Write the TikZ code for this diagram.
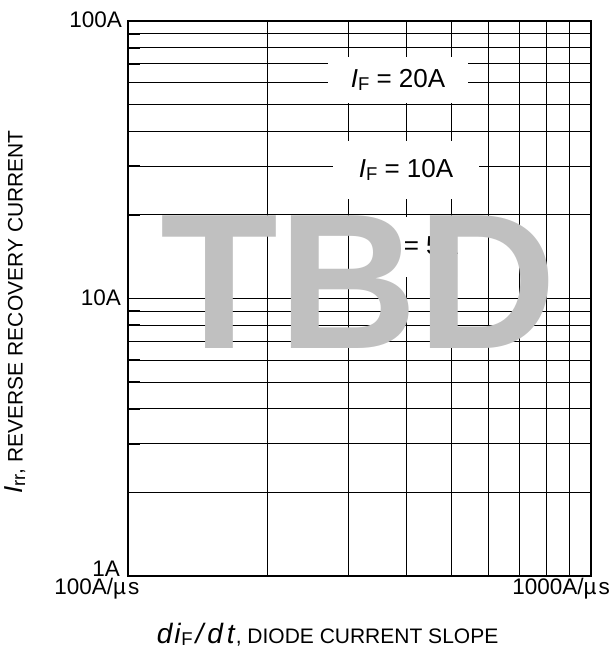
\documentclass[tikz,border=0pt]{standalone}
\usepackage{fontspec}
\setmainfont{Liberation Sans}
\usepackage{tikz}
\usetikzlibrary{positioning}
\definecolor{tbdgray}{RGB}{192,192,192}
\newcommand{\lowidx}[1]{\raisebox{-2.5pt}{\fontsize{18.5}{18.5}\selectfont #1}}

\begin{document}
\begin{tikzpicture}[x=1pt,y=-1pt]
        % Styles du graphique
        \tikzstyle{gridline} = [line width=1pt, black]
        \tikzstyle{plotframe} = [line width=1.2pt, black]
        \tikzstyle{tickmark} = [line width=1.8pt, black]
        \tikzstyle{ticklabel} = [inner sep=0pt, font=\fontsize{22.5}{22.5}\selectfont]
        \tikzstyle{axistitle} = [inner sep=0pt, font=\fontsize{21}{21}\selectfont]
        \tikzstyle{curvelabel} = [fill=white, inner sep=0pt, font=\fontsize{26}{26}\selectfont]
        \tikzstyle{stamp} = [inner sep=0pt, text=tbdgray, font=\fontsize{193}{193}\selectfont\bfseries]

        \useasboundingbox (0,0) rectangle (613,647);

        % Coins du cadre
        \coordinate (ll) at (128,576);
        \coordinate (ur) at (591,21);

        % Grille horizontale (1A a 100A, log)
        \foreach \k in {2,3,4,5,6,7,8,9,10,20,30,40,50,60,70,80,90} {
            \pgfmathsetmacro{\yy}{576-277.5*log10(\k)}
            \draw [gridline] (128,\yy) -- (591,\yy);
            \draw [tickmark] (128,\yy) -- ++(12,0);
        }
        \draw [tickmark] (128,21) -- ++(24,0);
        \draw [tickmark] (128,298.5) -- ++(24,0);
        \draw [tickmark] (128,576) -- ++(24,0);

        % Grille verticale (100 a 1000 A/us, log)
        \foreach \k in {2,3,4,5,6,7,8,9} {
            \pgfmathsetmacro{\xx}{128+463*log10(\k)}
            \draw [gridline] (\xx,21) -- (\xx,576);
        }
        \draw [plotframe] (ll) rectangle (ur);

        % Graduations
        \node (y100) [ticklabel, anchor=east] at (122,20) {100A};
        \node (y10) [ticklabel, anchor=east] at (121,297.5) {10A};
        \node (y1) [ticklabel, anchor=base east] at (120,576) {1A};
        \node (x100) [ticklabel, anchor=base east] at (139.5,594) {100A/µ\hspace{2pt}s};
        \node (x1000) [ticklabel, anchor=base east] at (610,594) {1000A/µ\hspace{2pt}s};

        % Etiquettes des courbes
        \node (if20) [curvelabel, minimum width=140pt, minimum height=46pt] at (398,80) {\textit{I}\lowidx{F} = 20A};
        \node (if10) [curvelabel, minimum width=146pt, minimum height=58pt] at (406,170) {\textit{I}\lowidx{F} = 10A};
        \node (if5) [curvelabel, minimum width=130pt, minimum height=60pt] at (418,247) {\textit{I}\lowidx{F} = 5A};

        % Tampon
        \node (tbd) [stamp, anchor=base west] at (160,348.3) {TBD};

        % Titres des axes
        \node (ytitle) [axistitle, rotate=90, anchor=base east] at (22.7,130) {{\fontsize{26}{26}\selectfont\textit{I}}\lowidx{rr}, REVERSE RECOVERY CURRENT};
        \node (xtitle) [axistitle, anchor=base east] at (498.5,643) {{\fontsize{28}{28}\selectfont\textit{d\hspace{2pt}i}}\lowidx{F}\hspace{3pt}{\fontsize{28}{28}\selectfont\textit{/\hspace{4pt}d\hspace{4pt}t}}, DIODE CURRENT SLOPE};
\end{tikzpicture}
\end{document}
